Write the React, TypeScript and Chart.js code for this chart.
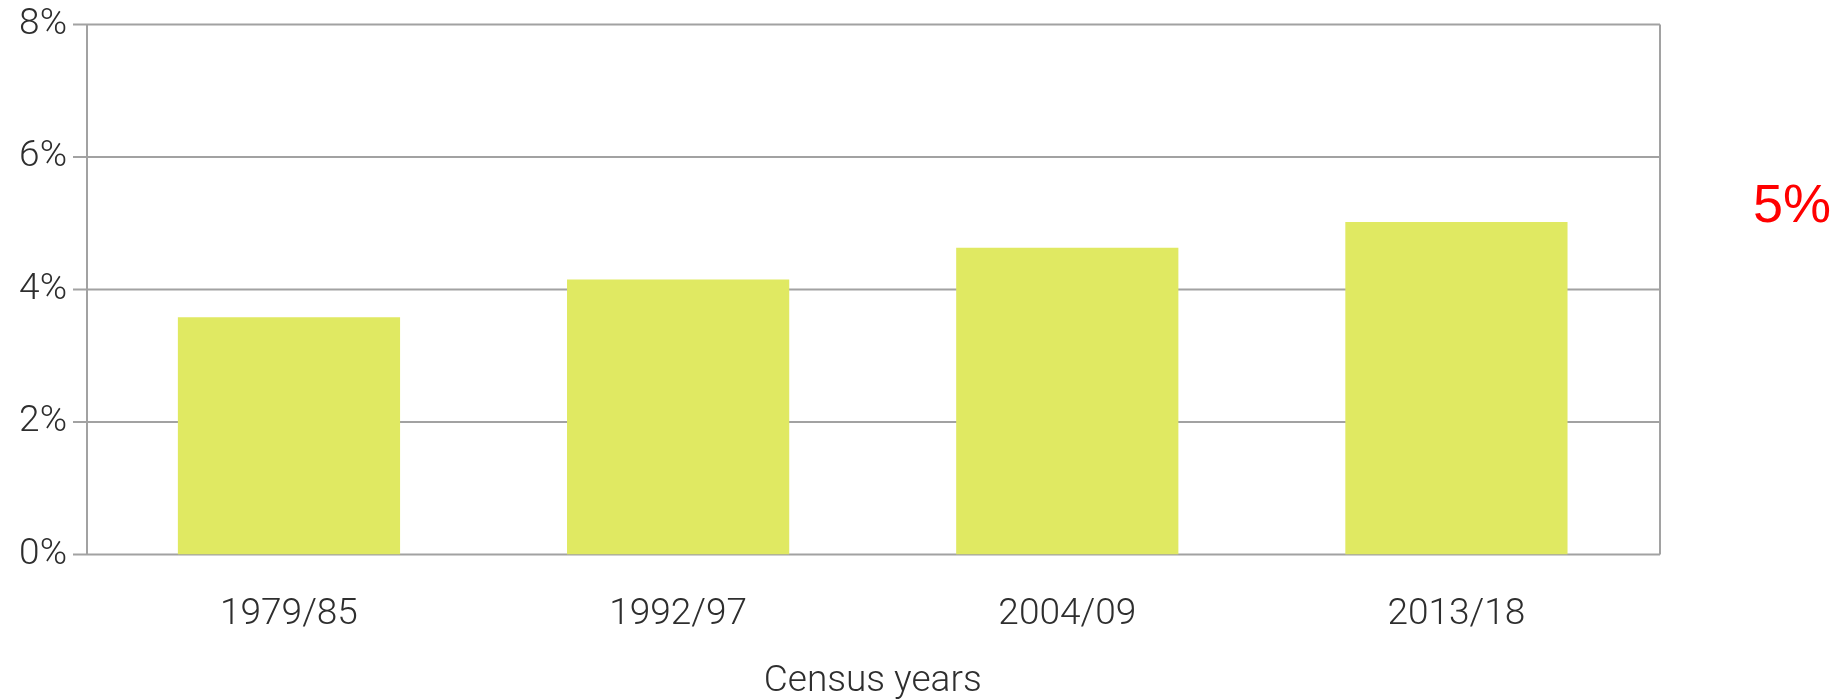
import React, { useEffect, useRef } from "react";
import { Chart, registerables } from "chart.js";

Chart.register(...registerables);

const categories = ["1979/85", "1992/97", "2004/09", "2013/18"];
const shareValues = [3.58, 4.15, 4.63, 5.02];
const yTickValues = [0, 2, 4, 6, 8];
const axisTitle = "Census years";
const sideNote = "5%";

const BAR_COLOR = "#e0e962";
const GRID_COLOR = "#a2a2a2";
const TEXT_COLOR = "#2e2e2e";

const framePlugin = {
  id: "framePlugin",
  beforeDatasetsDraw(chart: any) {
    const { ctx, chartArea, scales } = chart;
    const y = scales.y;
    const axisX = chartArea.left - 7.4;
    const rightX = chartArea.right + 9;
    const tickStart = chartArea.left - 21.4;
    ctx.save();
    ctx.strokeStyle = GRID_COLOR;
    ctx.lineWidth = 2;
    yTickValues.forEach((v) => {
      const py = y.getPixelForValue(v);
      ctx.beginPath();
      ctx.moveTo(tickStart, py);
      ctx.lineTo(rightX, py);
      ctx.stroke();
    });
    const top = y.getPixelForValue(yTickValues[yTickValues.length - 1]);
    const bottom = y.getPixelForValue(yTickValues[0]);
    ctx.beginPath();
    ctx.moveTo(axisX, top);
    ctx.lineTo(axisX, bottom);
    ctx.moveTo(rightX, top);
    ctx.lineTo(rightX, bottom);
    ctx.stroke();
    ctx.restore();
  },
  afterDraw(chart: any) {
    const { ctx, chartArea } = chart;
    ctx.save();
    ctx.fillStyle = "#ff0000";
    ctx.font = '54px "Liberation Sans", Arial, sans-serif';
    ctx.textAlign = "left";
    ctx.textBaseline = "alphabetic";
    ctx.fillText(sideNote, chartArea.right + 102, 222);
    ctx.restore();
  },
};

export default function App() {
  const canvasRef = useRef<HTMLCanvasElement | null>(null);

  useEffect(() => {
    document.body.style.margin = "0";
    const canvas = canvasRef.current;
    if (!canvas) return;
    const tickFont = { family: "Roboto", size: 37, weight: 300 as any };
    const chart = new Chart(canvas, {
      type: "bar",
      data: {
        labels: categories,
        datasets: [
          {
            data: shareValues,
            backgroundColor: BAR_COLOR,
            borderWidth: 0,
            barPercentage: 0.571,
            categoryPercentage: 1,
          },
        ],
      },
      plugins: [framePlugin],
      options: {
        responsive: false,
        animation: false,
        maintainAspectRatio: false,
        layout: { padding: { top: 0, right: 191, left: 0, bottom: 0 } },
        plugins: {
          legend: { display: false },
          tooltip: { enabled: false },
        },
        scales: {
          x: {
            grid: { display: false, drawTicks: false },
            border: { display: false },
            ticks: { color: TEXT_COLOR, font: tickFont, padding: 38 },
            title: {
              display: true,
              text: axisTitle,
              color: TEXT_COLOR,
              font: { family: "Roboto", size: 37, weight: 300 as any },
              padding: { top: 0, bottom: -5 },
            },
            afterFit(scale: any) {
              scale.height = 144.5;
            },
          },
          y: {
            min: 0,
            max: 8,
            grid: { display: false, drawTicks: false },
            border: { display: false },
            ticks: {
              stepSize: 2,
              color: TEXT_COLOR,
              font: tickFont,
              padding: 27.4,
              callback: (v: any) => `${v}%`,
            },
            afterFit(scale: any) {
              scale.width = 94.4;
              scale.paddingTop = 24.5;
              scale.paddingBottom = 22;
            },
          },
        },
      },
    });
    return () => chart.destroy();
  }, []);

  return (
    <div style={{ position: "absolute", left: 0, top: 0, width: 1842, height: 699, background: "#fff" }}>
      <canvas ref={canvasRef} width={1842} height={699} style={{ width: 1842, height: 699, display: "block" }} />
    </div>
  );
}
